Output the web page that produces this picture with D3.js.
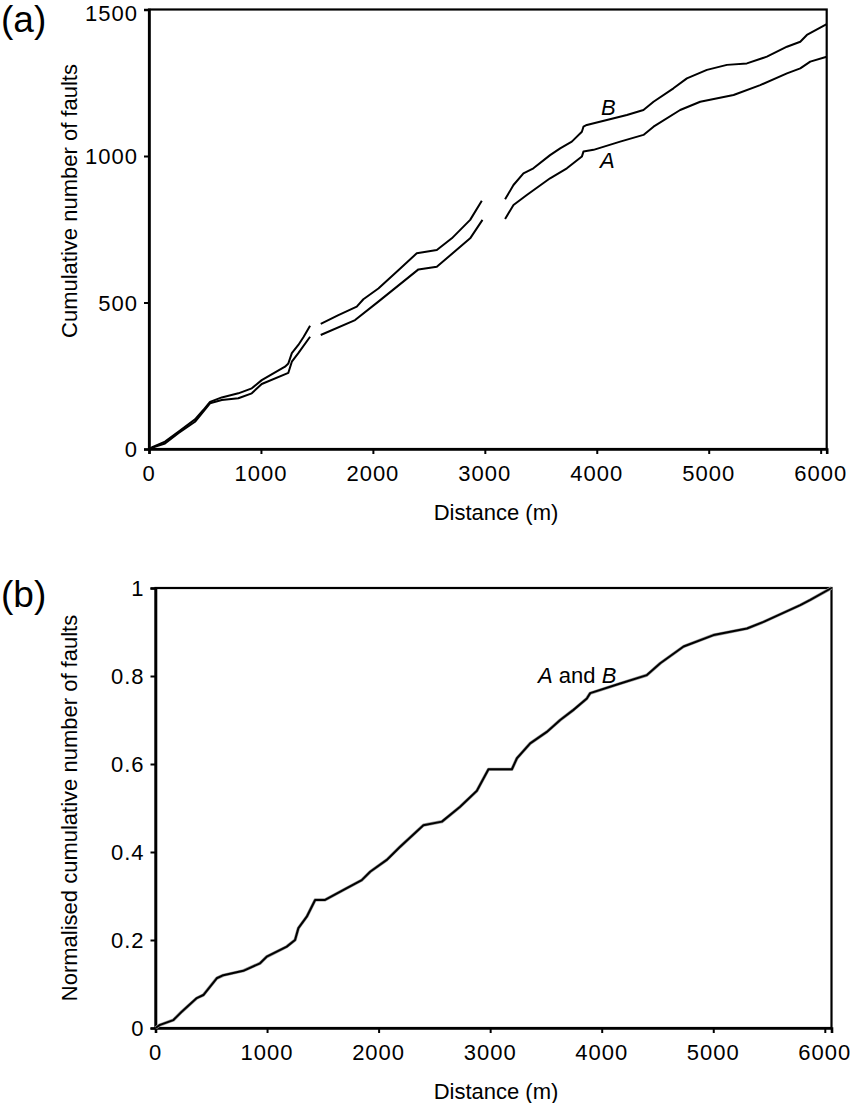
<!DOCTYPE html>
<html>
<head>
<meta charset="utf-8">
<script src="https://cdn.jsdelivr.net/npm/d3@7"></script>
<style>
  body { margin: 0; background: #fff; }
  text { font-family: "Liberation Sans", Arial, sans-serif; fill: #000; }
  .tick-label { font-size: 22px; letter-spacing: 1px; }
  .axis-title { font-size: 22px; }
  .panel-tag { font-size: 37px; }
  .curve-label { font-size: 22px; font-style: italic; }
</style>
</head>
<body>
<svg id="fig"></svg>
<script>
// Panel (a): cumulative number of faults along the traverse, lines A and B (null = gap in record)
const distanceA = [0, 24, 143, 262, 411, 545, 650, 798, 918, 1007, 1245, 1276, 1334, 1439, 1487, 1534, 1841, 2049, 2407, 2571,
  2869, 2979, 3080, 3181, 3256, 3375, 3583, 3733, 3867, 3881, 3971, 4209, 4417, 4507, 4745, 4924, 5222, 5460, 5699, 5818,
  5907, 6054];
const faultsA = [0, 4, 19, 54, 93, 156, 167, 173, 190, 222, 260, 298, 327, 383, null, 389, 440, 503, 613, 622,
  719, 782, null, 785, 833, 867, 924, 958, 998, 1015, 1021, 1049, 1072, 1100, 1157, 1185, 1208, 1242, 1282, 1299,
  1322, 1339];

const distanceB = [0, 24, 143, 262, 411, 485, 545, 650, 798, 918, 1007, 1215, 1245, 1276, 1334, 1382, 1439, 1487, 1534, 1692,
  1856, 1915, 2049, 2230, 2392, 2571, 2705, 2869, 2973, 3077, 3181, 3256, 3345, 3434, 3583, 3673, 3777, 3867, 3881, 3911,
  4090, 4269, 4417, 4507, 4685, 4805, 4984, 5163, 5341, 5520, 5699, 5818, 5877, 6054];
const faultsB = [0, 5, 25, 59, 101, 133, 161, 176, 190, 207, 235, 281, 292, 327, 355, 383, 421, null, 427, 457,
  486, 511, 548, 611, 668, 679, 719, 782, 847, null, 852, 901, 941, 958, 1003, 1026, 1049, 1083, 1100, 1106,
  1123, 1140, 1157, 1185, 1231, 1265, 1294, 1311, 1316, 1339, 1373, 1390, 1413, 1450];

// Panel (b): normalised cumulative number (A and B overlap)
const distanceNorm = [0, 40, 160, 235, 370, 429, 549, 608, 787, 937, 997, 1177, 1251, 1281, 1356, 1431, 1520, 1715, 1849, 1924,
  2073, 2193, 2402, 2567, 2731, 2881, 2985, 3195, 3240, 3359, 3508, 3628, 3747, 3867, 3897, 4166, 4405, 4525, 4734, 5003,
  5302, 5451, 5780, 5870, 6060];
const normFaults = [0, 0.007, 0.018, 0.037, 0.068, 0.075, 0.113, 0.120, 0.130, 0.147, 0.162, 0.185, 0.200, 0.227, 0.253, 0.291, 0.291, 0.318, 0.336, 0.355,
  0.382, 0.412, 0.461, 0.469, 0.503, 0.539, 0.588, 0.588, 0.613, 0.647, 0.673, 0.700, 0.723, 0.749, 0.761, 0.783, 0.802, 0.829, 0.867, 0.893,
  0.908, 0.923, 0.961, 0.973, 1.0];

const xTicks = [0, 1000, 2000, 3000, 4000, 5000, 6000];
const yTicksA = [0, 500, 1000, 1500];
const yTicksB = [0, 0.2, 0.4, 0.6, 0.8, 1];

const svg = d3.select('#fig').attr('width', 850).attr('height', 1103);
svg.append('rect').attr('width', 850).attr('height', 1103).attr('fill', '#fff');

class CumulativePanel {
  constructor(_config) {
    this.config = _config;
    this.initVis();
  }

  initVis() {
    let vis = this;
    const c = vis.config;

    vis.xScale = d3.scaleLinear().domain([0, c.xMax]).range([c.left, c.right]);
    vis.yScale = d3.scaleLinear().domain(c.yDomain).range([c.bottom, c.top]);

    vis.g = svg.append('g');

    // frame
    vis.g.append('rect')
      .attr('x', c.left).attr('y', c.top)
      .attr('width', c.right - c.left).attr('height', c.bottom - c.top)
      .attr('fill', 'none').attr('stroke', '#000').attr('stroke-width', 2.2);

    // axes (labels drawn separately to control spacing)
    const xAxis = d3.axisBottom(vis.xScale).tickValues(xTicks).tickSize(5).tickFormat('');
    const yAxis = d3.axisLeft(vis.yScale).tickValues(c.yTicks).tickSize(5).tickFormat('');
    vis.g.append('g').attr('transform', `translate(0,${c.bottom})`).call(xAxis)
      .call(g => g.select('.domain').attr('stroke-width', 2.6))
      .call(g => g.selectAll('.tick line').attr('stroke-width', 2));
    vis.g.append('g').attr('transform', `translate(${c.left},0)`).call(yAxis)
      .call(g => g.select('.domain').attr('stroke-width', 2.6))
      .call(g => g.selectAll('.tick line').attr('stroke-width', 2));

    vis.g.selectAll('.xlab').data(xTicks).enter().append('text')
      .attr('class', 'tick-label')
      .attr('x', d => vis.xScale(d))
      .attr('y', c.bottom + 32)
      .attr('text-anchor', 'middle')
      .text(d => d);

    // keep the top label inside the page
    vis.g.selectAll('.ylab').data(c.yTicks).enter().append('text')
      .attr('class', 'tick-label')
      .attr('x', c.left - 11)
      .attr('y', d => Math.max(vis.yScale(d) + 8, 21))
      .attr('text-anchor', 'end')
      .text(d => d);

    vis.g.append('text')
      .attr('class', 'axis-title')
      .attr('x', 496).attr('y', c.bottom + 71)
      .attr('text-anchor', 'middle')
      .text('Distance (m)');

    vis.g.append('text')
      .attr('class', 'axis-title')
      .attr('transform', `translate(77,${c.yTitleMid}) rotate(-90)`)
      .attr('text-anchor', 'middle')
      .text(c.yTitle);

    vis.g.append('text')
      .attr('class', 'panel-tag')
      .attr('x', 1).attr('y', c.tagY)
      .text(c.tag);

    vis.line = d3.line()
      .defined(d => d[1] !== null)
      .x(d => vis.xScale(d[0]))
      .y(d => vis.yScale(d[1]));
  }

  addCurve(xs, ys, stroke, width) {
    let vis = this;
    vis.g.append('path')
      .datum(d3.zip(xs, ys))
      .attr('fill', 'none')
      .attr('stroke', stroke)
      .attr('stroke-width', width)
      .attr('stroke-linejoin', 'round')
      .attr('d', vis.line);
  }
}

// (a)
const panelA = new CumulativePanel({
  left: 149, right: 826.7, top: 9.5, bottom: 449, xMax: 6054,
  yDomain: [0, 1500], yTicks: yTicksA,
  yTitle: 'Cumulative number of faults', yTitleMid: 201,
  tag: '(a)', tagY: 32
});
panelA.addCurve(distanceA, faultsA, '#000', 2);
panelA.addCurve(distanceB, faultsB, '#000', 2);
panelA.g.append('text').attr('class', 'curve-label').attr('x', 601).attr('y', 115).text('B');
panelA.g.append('text').attr('class', 'curve-label').attr('x', 600).attr('y', 168).text('A');

// (b)
const panelB = new CumulativePanel({
  left: 155.5, right: 831.5, top: 588, bottom: 1028, xMax: 6060,
  yDomain: [0, 1], yTicks: yTicksB,
  yTitle: 'Normalised cumulative number of faults', yTitleMid: 808,
  tag: '(b)', tagY: 607
});
panelB.addCurve(distanceNorm, normFaults, '#999', 3.2);
panelB.addCurve(distanceNorm, normFaults, '#000', 2);
const ab = panelB.g.append('text').attr('class', 'curve-label').attr('x', 538).attr('y', 683).style('font-style', 'normal');
ab.append('tspan').style('font-style', 'italic').text('A');
ab.append('tspan').text(' and ');
ab.append('tspan').style('font-style', 'italic').text('B');
</script>
</body>
</html>
